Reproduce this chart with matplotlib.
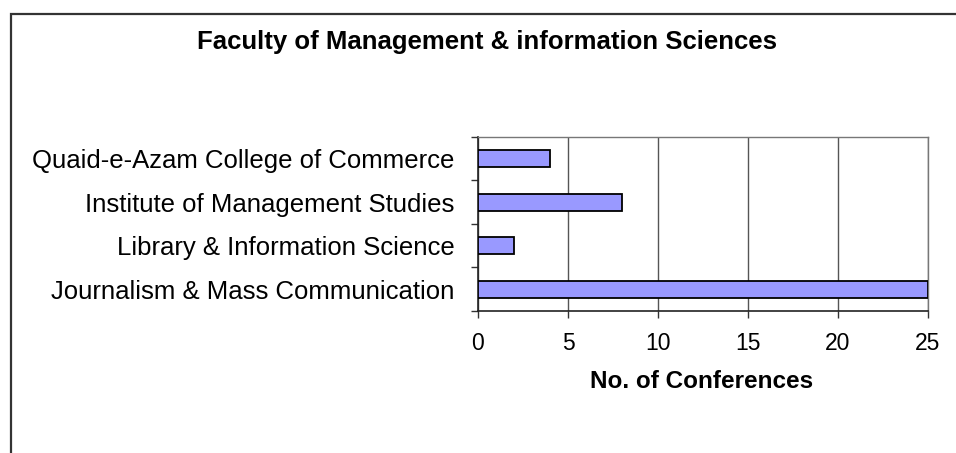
import matplotlib
matplotlib.use('Agg')
import matplotlib.pyplot as plt
from matplotlib.patches import Rectangle
import numpy as np

# Data (bottom to top, as drawn)
departments = ['Journalism & Mass Communication', 'Library & Information Science',
               'Institute of Management Studies', 'Quaid-e-Azam College of Commerce']
conferences = [25, 2, 8, 4]
x_ticks = [0, 5, 10, 15, 20, 25]

plt.rcParams['font.family'] = ['Liberation Sans', 'DejaVu Sans']

fig = plt.figure(figsize=(9.56, 4.53), dpi=100)
ax = fig.add_axes([0.5, 0.3135, 0.4707, 0.3841])

# Outer chart border (runs off the right and bottom edges)
fig.patches.append(Rectangle((11 / 956, -0.2), 1.2, 0.2 + 1 - 14 / 453,
                             transform=fig.transFigure, fill=False,
                             edgecolor='#333333', linewidth=1.6, clip_on=False))

y_pos = np.arange(len(departments))
ax.barh(y_pos, conferences, height=0.39, color='#9999FF', edgecolor='black', linewidth=1.3, zorder=3)

ax.set_xlim(0, 25)
ax.set_ylim(-0.5, len(departments) - 0.5)
ax.set_xticks(x_ticks)
ax.set_xticklabels([str(t) for t in x_ticks], fontsize=16.5)
ax.set_yticks(y_pos)
ax.set_yticklabels(departments, fontsize=18.5)
ax.tick_params(axis='y', which='major', length=0, pad=17)
ax.set_yticks(np.arange(-0.5, len(departments), 1.0), minor=True)
ax.tick_params(axis='y', which='minor', length=5, width=1, color='#333333')
ax.tick_params(axis='x', length=5, width=1, color='#333333', pad=10)

ax.grid(axis='x', color='#555555', linewidth=1, zorder=1)
for side in ['top', 'right']:
    ax.spines[side].set_color('#777777')
    ax.spines[side].set_linewidth(1)
for side in ['left', 'bottom']:
    ax.spines[side].set_color('#222222')
    ax.spines[side].set_linewidth(1.2)

fig.text(702 / 956, 1 - 381 / 453, 'No. of Conferences', ha='center', va='center',
         fontsize=17.5, fontweight='bold')
fig.text(487 / 956, 1 - 42 / 453, 'Faculty of Management & information Sciences',
         ha='center', va='center', fontsize=18.5, fontweight='bold')

fig.savefig('out.png', dpi=100)
